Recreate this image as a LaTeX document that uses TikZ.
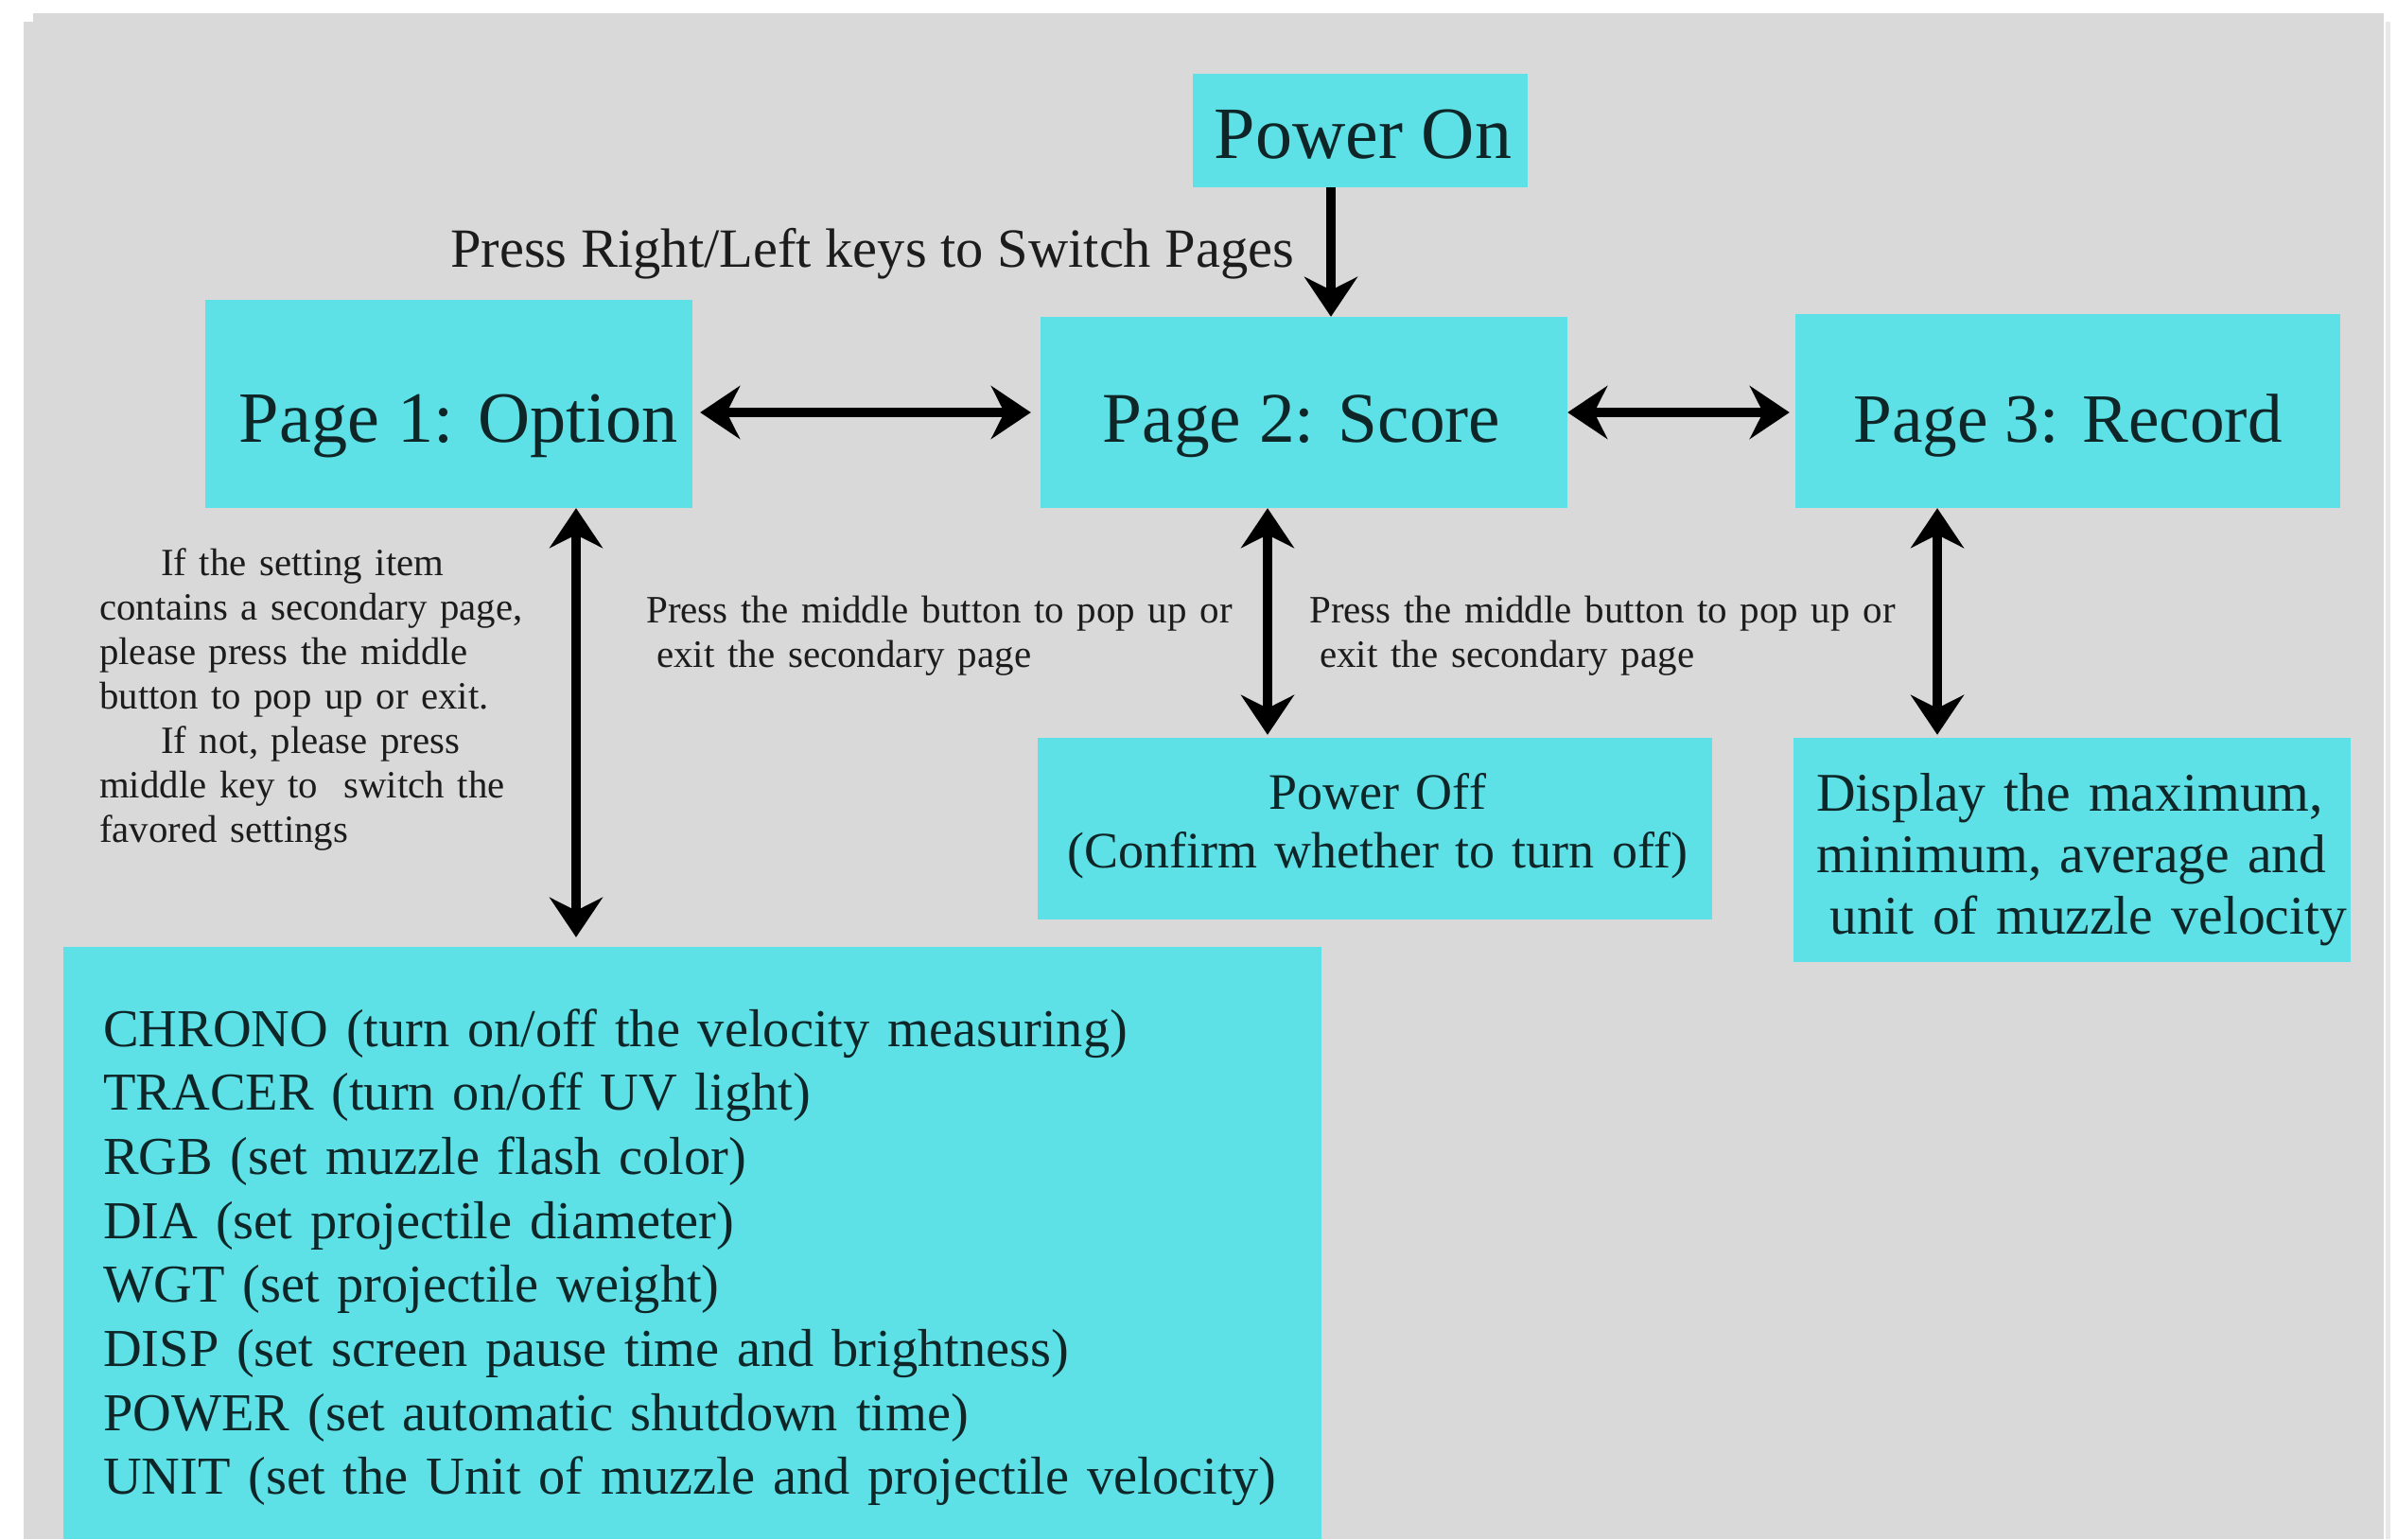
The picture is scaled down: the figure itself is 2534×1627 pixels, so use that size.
\documentclass[tikz,border=0pt]{standalone}
\usepackage{fontspec}
\setmainfont{Liberation Serif}
\usetikzlibrary{arrows.meta}

\definecolor{bggray}{HTML}{D9D9D9}
\definecolor{boxcyan}{HTML}{5DE1E6}
\definecolor{ink}{HTML}{1C1C1C}
\definecolor{boxink}{HTML}{0F2628}

\newcommand\setfs[2]{\fontsize{#1}{#2}\selectfont}

\tikzset{
  cbox/.style={rectangle, fill=boxcyan, draw=none, inner sep=0pt},
  txt/.style={inner sep=0pt, text=ink},
  boxtxt/.style={inner sep=0pt, text=boxink},
  link/.style={draw=black, line width=10pt},
  >={Stealth[length=42pt,width=56pt,inset=14pt]},
}

\begin{document}
\begin{tikzpicture}[x=1pt,y=-1pt]
  \useasboundingbox (0,0) rectangle (2534,1627);

  % sheet
  \fill[white] (0,0) rectangle (2534,1627);
  \fill[bggray] (35,14) rectangle (2520,1627);
  \fill[bggray] (25,23) rectangle (2520,1627);
  \fill[bggray!60!white] (2522,23) rectangle (2527,1627);

  % boxes
  \node[cbox, minimum width=354pt, minimum height=120pt] (pon)  at (1438,138)   {};
  \node[cbox, minimum width=515pt, minimum height=220pt] (p1)   at (474.5,427)  {};
  \node[cbox, minimum width=557pt, minimum height=202pt] (p2)   at (1378.5,436) {};
  \node[cbox, minimum width=576pt, minimum height=205pt] (p3)   at (2186,434.5) {};
  \node[cbox, minimum width=713pt, minimum height=192pt] (poff) at (1453.5,876) {};
  \node[cbox, minimum width=589pt, minimum height=237pt] (disp) at (2190.5,898.5) {};
  \node[cbox, minimum width=1330pt, minimum height=626pt] (list) at (732,1314)  {};

  % box captions
  \node[boxtxt, anchor=base, font=\setfs{78}{90}] (tpon) at (1441,167) {Power On};
  \node[boxtxt, anchor=base, font=\setfs{76.3}{90}] (tp1) at (485,467) {Page 1: Option};
  \node[boxtxt, anchor=base, font=\setfs{75.3}{90}] (tp2) at (1376,467) {Page 2: Score};
  \node[boxtxt, anchor=base, font=\setfs{73.2}{90}] (tp3) at (2186,467) {Page 3: Record};

  \node[boxtxt, anchor=base, font=\setfs{54}{62}, text width=700pt, align=center]
    (tpoff) at (1456,855) {Power Off\\(Confirm whether to turn off)};

  \node[boxtxt, anchor=base west, font=\setfs{57.6}{65}, text width=600pt, align=left]
    (tdisp) at (1920,857)
    {Display the maximum,\\minimum, average and\\\hspace*{14pt}unit of muzzle velocity};

  \node[boxtxt, anchor=base west, font=\setfs{56.4}{67.7}, text width=1300pt, align=left]
    (tlist) at (109,1106)
    {CHRONO (turn on/off the velocity measuring)\\
     TRACER (turn on/off UV light)\\
     RGB (set muzzle flash color)\\
     DIA (set projectile diameter)\\
     WGT (set projectile weight)\\
     DISP (set screen pause time and brightness)\\
     POWER (set automatic shutdown time)\\
     UNIT (set the Unit of muzzle and projectile velocity)};

  % free notes
  \node[txt, anchor=base west, font=\setfs{58.5}{66}] (tswitch) at (476,282)
    {Press Right/Left keys to Switch Pages};

  \node[txt, anchor=base west, font=\setfs{40.8}{47}, text width=700pt, align=left]
    (tnote) at (105,608)
    {\hspace*{65pt}If the setting item\\
     contains a secondary page,\\
     please press the middle\\
     button to pop up or exit.\\
     \hspace*{65pt}If not, please press\\
     middle key to\ \ switch the\\
     favored settings};

  \node[txt, anchor=base west, font=\setfs{41}{47}, text width=700pt, align=left]
    (tmidl) at (683,658)
    {Press the middle button to pop up or\\\hspace*{11pt}exit the secondary page};

  \node[txt, anchor=base west, font=\setfs{41}{47}, text width=700pt, align=left]
    (tmidr) at (1384,658)
    {Press the middle button to pop up or\\\hspace*{11pt}exit the secondary page};

  % connectors
  \coordinate (hrow) at (0,436);
  \coordinate (vpon) at (1407,0);
  \coordinate (vp1)  at (609,0);
  \coordinate (vp2)  at (1340,0);
  \coordinate (vp3)  at (2048,0);

  \draw[link, ->] (vpon |- pon.south) -- (vpon |- p2.north);
  \draw[link, <->, shorten <=8pt, shorten >=10pt] (p1.east |- hrow) -- (p2.west |- hrow);
  \draw[link, <->, shorten >=6pt] (p2.east |- hrow) -- (p3.west |- hrow);
  \draw[link, <->, shorten >=10pt] (vp1 |- p1.south) -- (vp1 |- list.north);
  \draw[link, <->, shorten >=3pt] (vp2 |- p2.south) -- (vp2 |- poff.north);
  \draw[link, <->, shorten >=3pt] (vp3 |- p3.south) -- (vp3 |- disp.north);
\end{tikzpicture}
\end{document}
